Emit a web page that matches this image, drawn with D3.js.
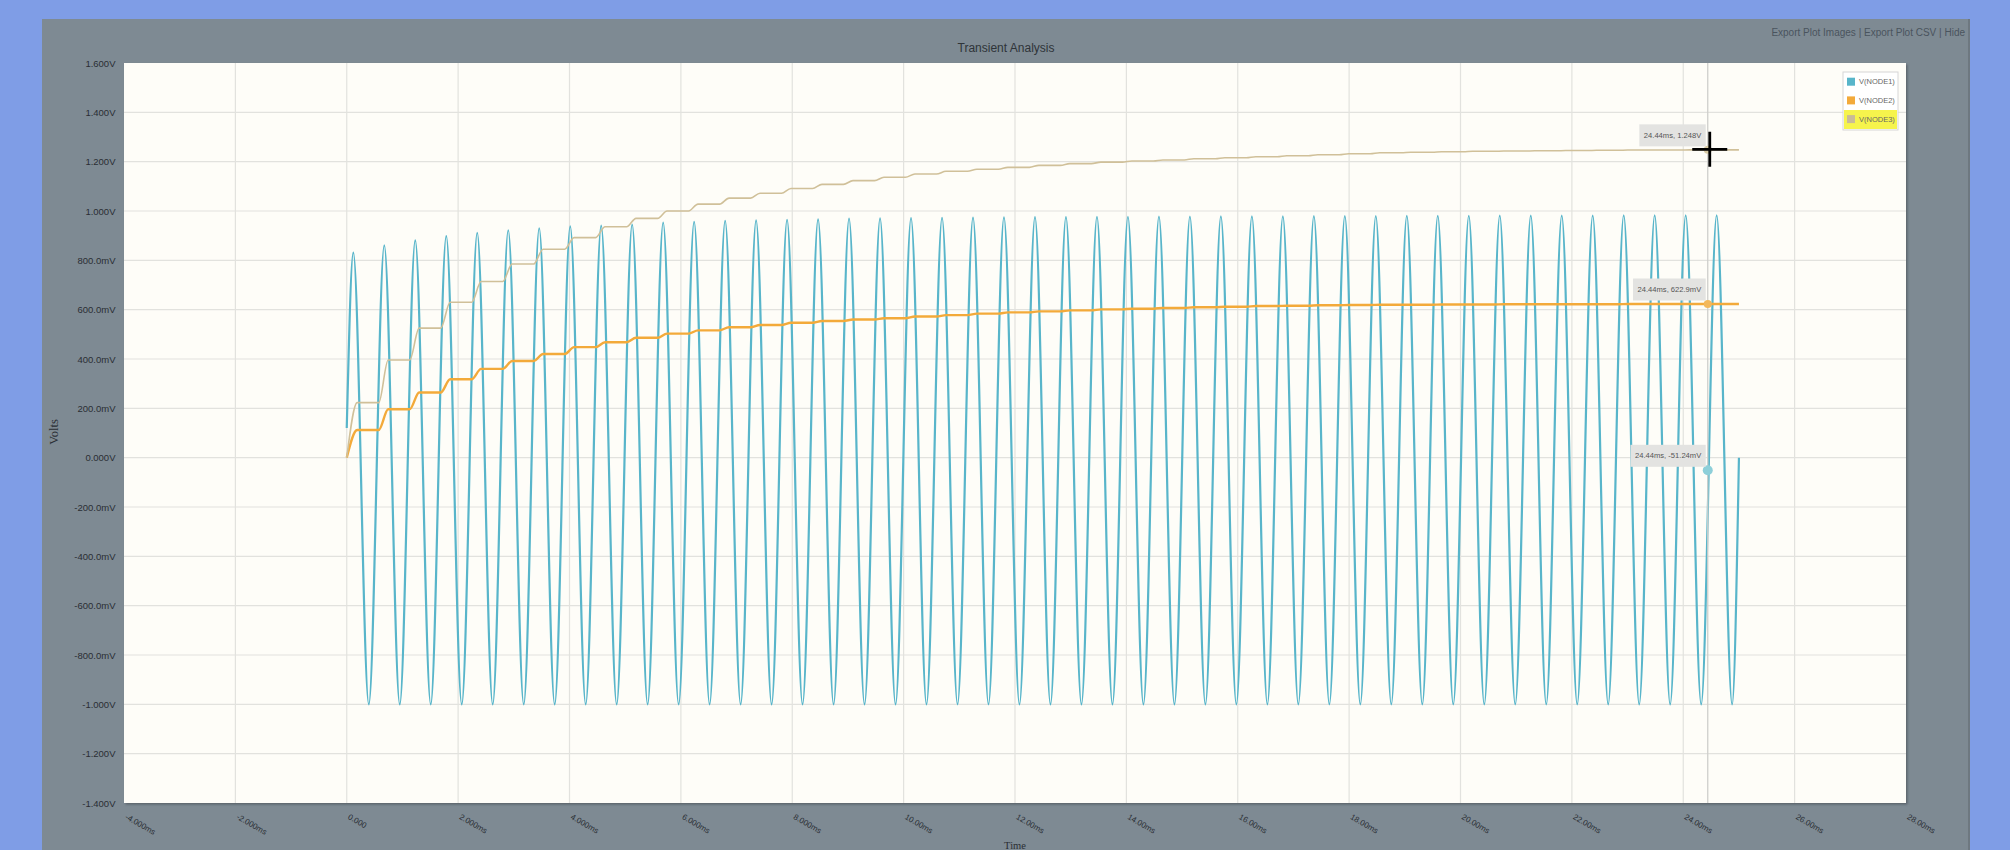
<!DOCTYPE html>
<html>
<head>
<meta charset="utf-8">
<script src="https://cdn.jsdelivr.net/npm/d3@7"></script>
<style>
  html, body { margin: 0; padding: 0; background: #7f9de6; }
  svg { display: block; font-family: "Liberation Sans", Arial, sans-serif; }
</style>
</head>
<body>
<svg id="chart"></svg>
<script>
// ---- data ----
const xTicks = [-4, -2, 0, 2, 4, 6, 8, 10, 12, 14, 16, 18, 20, 22, 24, 26, 28];
const xTickLabels = ['-4.000ms', '-2.000ms', '0.000', '2.000ms', '4.000ms', '6.000ms', '8.000ms', '10.00ms', '12.00ms',
    '14.00ms', '16.00ms', '18.00ms', '20.00ms', '22.00ms', '24.00ms', '26.00ms', '28.00ms'];
const yTicks = [-1.4, -1.2, -1.0, -0.8, -0.6, -0.4, -0.2, 0, 0.2, 0.4, 0.6, 0.8, 1.0, 1.2, 1.4, 1.6];
const yTickLabels = ['-1.400V', '-1.200V', '-1.000V', '-800.0mV', '-600.0mV', '-400.0mV', '-200.0mV', '0.000V',
    '200.0mV', '400.0mV', '600.0mV', '800.0mV', '1.000V', '1.200V', '1.400V', '1.600V'];

const seriesNames = ['V(NODE1)', 'V(NODE2)', 'V(NODE3)'];
const seriesColors = ['#58b5ca', '#f3aa3a', '#d0c099'];

// NODE1: start / end points plus every peak and trough (ms, V)
const node1Start = [0, 0.12];
const node1End = [25.0, 0.0];
const node1PeakTimes = [0.118, 0.674, 1.230, 1.787, 2.343, 2.900, 3.456, 4.013, 4.569, 5.125, 5.682, 6.238, 6.795,
    7.351, 7.907, 8.464, 9.020, 9.577, 10.133, 10.690, 11.246, 11.802, 12.359, 12.915, 13.472, 14.028, 14.585,
    15.141, 15.697, 16.254, 16.810, 17.367, 17.923, 18.479, 19.036, 19.592, 20.149, 20.705, 21.262, 21.818,
    22.374, 22.931, 23.487, 24.044, 24.600];
const node1PeakVolts = [0.831, 0.861, 0.881, 0.898, 0.911, 0.922, 0.930, 0.938, 0.941, 0.945, 0.953, 0.956, 0.960,
    0.962, 0.964, 0.966, 0.969, 0.970, 0.971, 0.972, 0.973, 0.974, 0.975, 0.975, 0.976, 0.976, 0.977, 0.977,
    0.978, 0.978, 0.978, 0.979, 0.979, 0.979, 0.980, 0.980, 0.980, 0.981, 0.981, 0.981, 0.981, 0.982, 0.982,
    0.982, 0.982];
const node1TroughTimes = [0.396, 0.952, 1.508, 2.065, 2.621, 3.178, 3.734, 4.291, 4.847, 5.403, 5.960, 6.516, 7.073,
    7.629, 8.185, 8.742, 9.298, 9.855, 10.411, 10.968, 11.524, 12.080, 12.637, 13.193, 13.750, 14.306, 14.863,
    15.419, 15.975, 16.532, 17.088, 17.645, 18.201, 18.757, 19.314, 19.870, 20.427, 20.983, 21.540, 22.096,
    22.652, 23.209, 23.765, 24.322, 24.878];
const node1TroughVolts = [-1.000, -1.000, -1.000, -1.000, -1.000, -1.000, -1.000, -1.000, -1.000, -1.000, -1.000,
    -1.000, -1.000, -1.000, -1.000, -1.000, -1.000, -1.000, -1.000, -1.000, -1.000, -1.000, -1.000, -1.000, -1.000,
    -1.000, -1.000, -1.000, -1.000, -1.000, -1.000, -1.000, -1.000, -1.000, -1.000, -1.000, -1.000, -1.000, -1.000,
    -1.000, -1.000, -1.000, -1.000, -1.000, -1.000];

// NODE2 / NODE3: staircase level reached after each NODE1 peak (V)
const node2Levels = [0.112, 0.196, 0.264, 0.318, 0.360, 0.392, 0.420, 0.448, 0.468, 0.486, 0.503, 0.516, 0.529,
    0.538, 0.547, 0.554, 0.560, 0.565, 0.572, 0.578, 0.584, 0.589, 0.593, 0.597, 0.601, 0.604, 0.607, 0.610,
    0.612, 0.615, 0.616, 0.618, 0.619, 0.620, 0.620, 0.621, 0.621, 0.622, 0.622, 0.622, 0.622, 0.623, 0.623,
    0.623, 0.623];
const node3Levels = [0.223, 0.396, 0.525, 0.630, 0.714, 0.785, 0.845, 0.892, 0.936, 0.970, 1.000, 1.028, 1.052,
    1.072, 1.091, 1.108, 1.123, 1.137, 1.150, 1.161, 1.169, 1.177, 1.185, 1.192, 1.198, 1.203, 1.207, 1.212,
    1.216, 1.220, 1.224, 1.228, 1.232, 1.236, 1.238, 1.240, 1.242, 1.243, 1.244, 1.245, 1.246, 1.247, 1.247,
    1.248, 1.248];

// hover readout
const cursorTime = 24.44;
const cursorVolts = [-0.05124, 0.6229, 1.248];
const cursorLabels = ['24.44ms, -51.24mV', '24.44ms, 622.9mV', '24.44ms, 1.248V'];

class TransientPlot {
    constructor(_config) {
        this.config = {
            parentElement: _config.parentElement,
            width: 2010,
            height: 850,
            panel: { x: 42, y: 19 },
            margin: { top: 63, right: 104, bottom: 47, left: 124 },
            riseBefore: 0.10,
            riseAfter: 0.07
        };
        this.initVis();
    }

    initVis() {
        let vis = this;
        const c = vis.config;

        vis.innerWidth = c.width - c.margin.left - c.margin.right;
        vis.innerHeight = c.height - c.margin.top - c.margin.bottom;

        vis.xScale = d3.scaleLinear().domain([-4, 28]).range([0, vis.innerWidth]);
        vis.yScale = d3.scaleLinear().domain([-1.4, 1.6]).range([vis.innerHeight, 0]);

        vis.svg = d3.select(c.parentElement)
            .attr('width', c.width)
            .attr('height', c.height);

        const defs = vis.svg.append('defs');
        defs.append('filter').attr('id', 'plotShadow')
            .attr('x', '-1%').attr('y', '-1%').attr('width', '102%').attr('height', '102%')
            .append('feDropShadow')
            .attr('dx', 1.5).attr('dy', 1.5).attr('stdDeviation', 1)
            .attr('flood-color', '#4a5258').attr('flood-opacity', 0.7);
        defs.append('clipPath').attr('id', 'clip')
            .append('rect').attr('width', vis.innerWidth).attr('height', vis.innerHeight);

        // grey panel behind the plot
        vis.svg.append('rect')
            .attr('x', c.panel.x).attr('y', c.panel.y)
            .attr('width', c.width - 40 - c.panel.x).attr('height', c.height)
            .attr('fill', '#7e8a93');
        vis.svg.append('rect')
            .attr('x', c.width - 42).attr('y', c.panel.y)
            .attr('width', 2).attr('height', c.height)
            .attr('fill', '#6e7880');

        vis.svg.append('text')
            .attr('x', (c.panel.x + c.width - 40) / 2).attr('y', 51.5)
            .attr('text-anchor', 'middle')
            .attr('font-size', 12).attr('fill', '#2f3439')
            .text('Transient Analysis');

        vis.svg.append('text')
            .attr('x', 1965).attr('y', 35.5)
            .attr('text-anchor', 'end')
            .attr('font-size', 10).attr('fill', '#4a545e')
            .text('Export Plot Images | Export Plot CSV | Hide');

        vis.chart = vis.svg.append('g')
            .attr('transform', `translate(${c.margin.left},${c.margin.top})`);

        vis.chart.append('rect')
            .attr('width', vis.innerWidth).attr('height', vis.innerHeight)
            .attr('fill', '#fefdf8')
            .attr('filter', 'url(#plotShadow)');

        vis.gridG = vis.chart.append('g').attr('class', 'grid');
        vis.xAxisG = vis.chart.append('g').attr('class', 'axis x-axis')
            .attr('transform', `translate(0,${vis.innerHeight})`);
        vis.yAxisG = vis.chart.append('g').attr('class', 'axis y-axis');
        vis.linesG = vis.chart.append('g').attr('clip-path', 'url(#clip)');
        vis.hoverG = vis.chart.append('g');
        vis.legendG = vis.chart.append('g');

        vis.svg.append('text')
            .attr('transform', `translate(58,432) rotate(-90)`)
            .attr('text-anchor', 'middle')
            .attr('font-family', '"Liberation Serif", "Times New Roman", serif')
            .attr('font-size', 12.5).attr('fill', '#2a2e33')
            .text('Volts');

        // sits at the very bottom edge, as in the screenshot
        vis.svg.append('text')
            .attr('x', c.margin.left + vis.innerWidth / 2).attr('y', 848.5)
            .attr('text-anchor', 'middle')
            .attr('font-family', '"Liberation Serif", "Times New Roman", serif')
            .attr('font-size', 10.5).attr('fill', '#2a2e33')
            .text('Time');

        vis.updateVis();
    }

    updateVis() {
        let vis = this;
        const c = vis.config;

        vis.node1Data = [node1Start];
        node1PeakTimes.forEach((t, i) => {
            vis.node1Data.push([t, node1PeakVolts[i]]);
            vis.node1Data.push([node1TroughTimes[i], node1TroughVolts[i]]);
        });
        vis.node1Data.push(node1End);

        const stairs = levels => {
            const pts = [[0, 0]];
            node1PeakTimes.forEach((t, i) => {
                if (i > 0) pts.push([t - c.riseBefore, levels[i - 1]]);
                pts.push([t + c.riseAfter, levels[i]]);
            });
            pts.push([node1End[0], levels[levels.length - 1]]);
            return pts;
        };
        vis.node2Data = stairs(node2Levels);
        vis.node3Data = stairs(node3Levels);

        vis.line = d3.line()
            .x(d => vis.xScale(d[0]))
            .y(d => vis.yScale(d[1]))
            .curve(d3.curveMonotoneX);

        vis.renderVis();
    }

    renderVis() {
        let vis = this;

        // grid
        vis.gridG.selectAll('.vgrid')
            .data(xTicks.slice(1, -1))
            .join('line').attr('class', 'vgrid')
            .attr('x1', d => vis.xScale(d)).attr('x2', d => vis.xScale(d))
            .attr('y1', 0).attr('y2', vis.innerHeight)
            .attr('stroke', '#e2e2de').attr('stroke-width', 1.2);
        vis.gridG.selectAll('.hgrid')
            .data(yTicks.slice(1, -1))
            .join('line').attr('class', 'hgrid')
            .attr('x1', 0).attr('x2', vis.innerWidth)
            .attr('y1', d => vis.yScale(d)).attr('y2', d => vis.yScale(d))
            .attr('stroke', '#e2e2de').attr('stroke-width', 1.2);

        // axes (labels only)
        const xAxis = d3.axisBottom(vis.xScale)
            .tickValues(xTicks)
            .tickFormat((d, i) => xTickLabels[i])
            .tickSize(0);
        vis.xAxisG.call(xAxis);
        vis.xAxisG.select('.domain').remove();
        vis.xAxisG.selectAll('text')
            .attr('x', 0).attr('y', 0).attr('dy', '0.35em')
            .attr('transform', 'translate(1.5,13) rotate(30)')
            .style('text-anchor', 'start')
            .attr('font-size', 8).attr('fill', '#2a2e33');

        const yAxis = d3.axisLeft(vis.yScale)
            .tickValues(yTicks)
            .tickFormat((d, i) => yTickLabels[i])
            .tickSize(0)
            .tickPadding(8.5);
        vis.yAxisG.call(yAxis);
        vis.yAxisG.select('.domain').remove();
        vis.yAxisG.selectAll('text')
            .attr('font-size', 9.5).attr('fill', '#2a2e33');
        vis.chart.selectAll('.axis text').attr('font-family', '"Liberation Sans", Arial, sans-serif');

        // cursor line
        const cx = vis.xScale(cursorTime);
        vis.hoverG.append('line')
            .attr('x1', cx).attr('x2', cx)
            .attr('y1', 0).attr('y2', vis.innerHeight)
            .attr('stroke', '#cfcfcb').attr('stroke-width', 1.3);

        // series
        const series = [
            { data: vis.node1Data, width: 2.2 },
            { data: vis.node2Data, width: 2.4 },
            { data: vis.node3Data, width: 1.6 }
        ];
        vis.linesG.selectAll('path')
            .data(series)
            .join('path')
            .attr('d', d => vis.line(d.data))
            .attr('fill', 'none')
            .attr('stroke', (d, i) => seriesColors[i])
            .attr('stroke-width', d => d.width)
            .attr('stroke-linejoin', 'round');

        // hover dots and readouts
        const dotFill = ['#8dcfd9', '#f3b85c', '#d8cba5'];
        const dotR = [5, 4, 4];
        cursorVolts.forEach((v, i) => {
            const py = vis.yScale(v);
            vis.hoverG.append('circle')
                .attr('cx', cx).attr('cy', py).attr('r', dotR[i])
                .attr('fill', dotFill[i]);

            const tip = vis.hoverG.append('g');
            const txt = tip.append('text')
                .attr('font-size', 7.6).attr('fill', '#555')
                .text(cursorLabels[i]);
            const tw = txt.node().getComputedTextLength();
            const bw = tw + 9, bh = 22;
            const bx = cx - 2 - bw, by = py - 3.5 - bh;
            tip.insert('rect', 'text')
                .attr('x', bx).attr('y', by)
                .attr('width', bw).attr('height', bh)
                .attr('fill', '#e3e3e1');
            txt.attr('x', bx + 4.5).attr('y', by + bh / 2).attr('dy', '0.35em');
        });

        // mouse crosshair
        const mx = cx + 2, my = vis.yScale(cursorVolts[2]) - 0.5;
        vis.hoverG.append('path')
            .attr('d', `M${mx - 17.5},${my}H${mx + 17.5}M${mx},${my - 17.5}V${my + 17.5}`)
            .attr('stroke', '#000').attr('stroke-width', 2.8);

        // legend
        const lx = vis.innerWidth - 63, ly = 9;
        vis.legendG.append('rect')
            .attr('x', lx).attr('y', ly)
            .attr('width', 55).attr('height', 58)
            .attr('fill', '#fff').attr('stroke', '#d6d6d6');
        vis.legendG.append('rect')
            .attr('x', lx + 1).attr('y', ly + 38)
            .attr('width', 53).attr('height', 19)
            .attr('fill', '#f6f44c');
        const rows = vis.legendG.selectAll('.row')
            .data(seriesNames)
            .join('g').attr('class', 'row')
            .attr('transform', (d, i) => `translate(${lx + 4},${ly + 9.7 + i * 18.7})`);
        rows.append('rect')
            .attr('x', 0).attr('y', -4)
            .attr('width', 8).attr('height', 8)
            .attr('fill', (d, i) => i === 2 ? '#c9bb98' : seriesColors[i]);
        rows.append('text')
            .attr('x', 12).attr('dy', '0.35em')
            .attr('font-size', 7.5).attr('fill', '#666')
            .text(d => d);
    }
}

new TransientPlot({ parentElement: '#chart' });
</script>
</body>
</html>
